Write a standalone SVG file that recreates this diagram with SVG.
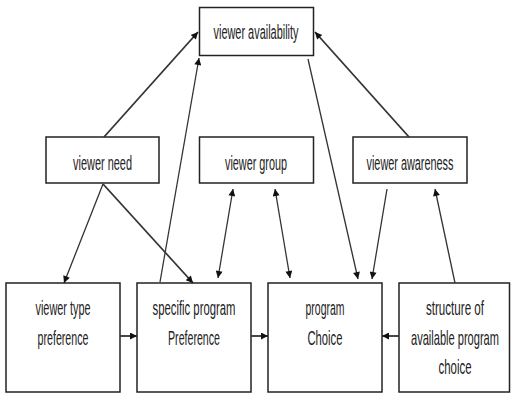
<svg xmlns="http://www.w3.org/2000/svg" width="511" height="393" viewBox="0 0 511 393">
<style>
.box{fill:#fff;stroke:#222;stroke-width:1.5}
.t{font-family:"Liberation Sans",Arial,sans-serif;font-size:13px;fill:#222;text-anchor:middle}
.s{font-size:11px}
.c{stroke:#333;stroke-width:1.3;fill:none}
.k{stroke-width:1.8}
</style>
<defs>
<marker id="ah" viewBox="0 0 10 10" refX="10" refY="5" markerWidth="9" markerHeight="7" markerUnits="userSpaceOnUse" orient="auto-start-reverse">
<path d="M0,0 L10,5 L0,10 z" fill="#111"/>
</marker>
</defs>
<rect width="511" height="393" fill="#fff"/>
<g id="viewer-availability"><rect class="box" x="199.5" y="7.5" width="114" height="48"/><text class="t" x="256" y="0" transform="translate(0,38.5) scale(1,1.5)" textLength="85" lengthAdjust="spacingAndGlyphs">viewer availability</text></g>
<g id="viewer-need"><rect class="box" x="46" y="137" width="113" height="46"/><text class="t" x="102.5" y="0" transform="translate(0,170) scale(1,1.5)" textLength="59" lengthAdjust="spacingAndGlyphs">viewer need</text></g>
<g id="viewer-group"><rect class="box" x="199.5" y="137" width="114" height="46"/><text class="t" x="256" y="0" transform="translate(0,170) scale(1,1.5)" textLength="62" lengthAdjust="spacingAndGlyphs">viewer group</text></g>
<g id="viewer-awareness"><rect class="box" x="353" y="137" width="114" height="46"/><text class="t" x="410" y="0" transform="translate(0,170) scale(1,1.5)" textLength="87" lengthAdjust="spacingAndGlyphs">viewer awareness</text></g>
<g id="viewer-type-preference"><rect class="box" x="6" y="283" width="114" height="109"/><text class="t" x="63" y="0" transform="translate(0,315) scale(1,1.5)" textLength="55" lengthAdjust="spacingAndGlyphs">viewer type</text><text class="t" x="63" y="0" transform="translate(0,345) scale(1,1.5)" textLength="51" lengthAdjust="spacingAndGlyphs">preference</text></g>
<g id="specific-program-preference"><rect class="box" x="137" y="283" width="114" height="109"/><text class="t" x="194" y="0" transform="translate(0,315) scale(1,1.5)" textLength="83" lengthAdjust="spacingAndGlyphs">specific program</text><text class="t" x="194" y="0" transform="translate(0,345) scale(1,1.5)" textLength="52" lengthAdjust="spacingAndGlyphs">Preference</text></g>
<g id="program-choice"><rect class="box" x="268" y="283" width="114" height="109"/><text class="t" x="325" y="0" transform="translate(0,315) scale(1,1.5)" textLength="39" lengthAdjust="spacingAndGlyphs">program</text><text class="t" x="325" y="0" transform="translate(0,345) scale(1,1.5)" textLength="35" lengthAdjust="spacingAndGlyphs">Choice</text></g>
<g id="structure-of-available-program-choice"><rect class="box" x="399" y="283" width="110.5" height="109"/><text class="t" x="455" y="0" transform="translate(0,315) scale(1,1.5)" textLength="58" lengthAdjust="spacingAndGlyphs">structure of</text><text class="t s" x="455" y="0" transform="translate(0,345) scale(1,1.77)" textLength="88" lengthAdjust="spacingAndGlyphs">available program</text><text class="t" x="455" y="0" transform="translate(0,374) scale(1,1.5)" textLength="33" lengthAdjust="spacingAndGlyphs">choice</text></g>
<g id="connectors">
<line class="c k" x1="104" y1="137" x2="198" y2="32" marker-end="url(#ah)"/>
<line class="c" x1="160" y1="282" x2="199" y2="58" marker-end="url(#ah)"/>
<line class="c" x1="308" y1="59" x2="358" y2="279" marker-end="url(#ah)"/>
<line class="c k" x1="409" y1="137" x2="315" y2="32" marker-end="url(#ah)"/>
<line class="c" x1="103" y1="184" x2="64" y2="283" marker-end="url(#ah)"/>
<line class="c k" x1="103" y1="184" x2="193" y2="283" marker-end="url(#ah)"/>
<line class="c" x1="233" y1="189" x2="218" y2="278" marker-start="url(#ah)" marker-end="url(#ah)"/>
<line class="c" x1="275" y1="189" x2="290" y2="278" marker-start="url(#ah)" marker-end="url(#ah)"/>
<line class="c" x1="387" y1="189" x2="372" y2="279" marker-end="url(#ah)"/>
<line class="c" x1="455" y1="283" x2="435" y2="189" marker-end="url(#ah)"/>
<line class="c k" x1="120" y1="336" x2="137" y2="336" marker-end="url(#ah)"/>
<line class="c k" x1="251" y1="336" x2="268" y2="336" marker-end="url(#ah)"/>
<line class="c k" x1="399" y1="336" x2="382" y2="336" marker-end="url(#ah)"/>
</g>
</svg>
